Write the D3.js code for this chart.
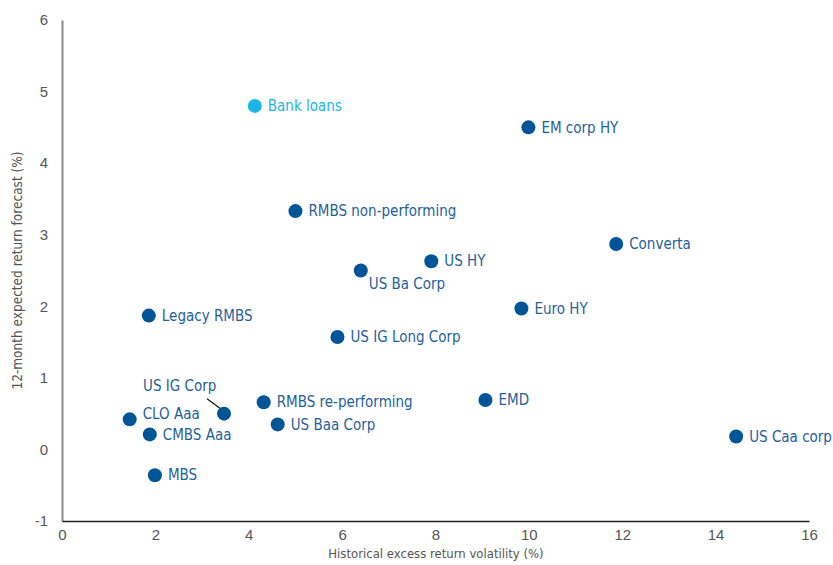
<!DOCTYPE html>
<html>
<head>
<meta charset="utf-8">
<script src="https://cdn.jsdelivr.net/npm/d3@7"></script>
<style>
  body { margin: 0; background: #fff; }
  svg { font-family: "DejaVu Sans Condensed", "Liberation Sans Narrow", sans-serif; }
</style>
</head>
<body>
<div id="chart"></div>
<script>
// Data
const names = ['Bank loans', 'EM corp HY', 'RMBS non-performing', 'Converta', 'US HY', 'US Ba Corp',
  'Euro HY', 'Legacy RMBS', 'US IG Long Corp', 'US IG Corp', 'RMBS re-performing', 'CLO Aaa',
  'CMBS Aaa', 'US Baa Corp', 'EMD', 'MBS', 'US Caa corp'];
const volatility = [4.13, 9.99, 5.0, 11.87, 7.91, 6.40, 9.84, 1.86, 5.90, 3.47, 4.32, 1.45, 1.88, 4.62, 9.07, 1.99, 14.44];
const forecast = [4.80, 4.50, 3.33, 2.87, 2.63, 2.50, 1.97, 1.87, 1.57, 0.50, 0.66, 0.42, 0.21, 0.35, 0.69, -0.36, 0.18];
const xTicks = [0, 2, 4, 6, 8, 10, 12, 14, 16];
const yTicks = [-1, 0, 1, 2, 3, 4, 5, 6];

const highlight = 'Bank loans';

// label placement (offset from dot centre)
const labelPos = {
  'US Ba Corp': { dx: 8, dy: 13 },
  'US IG Corp': { dx: -81, dy: -28, leader: true },
  'CLO Aaa': { dx: 13, dy: -6 }
};

const W = 833, H = 565;
const margin = { top: 20, right: 24, bottom: 44, left: 62 };

const svg = d3.select('#chart').append('svg')
  .attr('width', W)
  .attr('height', H);

const x = d3.scaleLinear().domain([0, 16]).range([margin.left, 809]);
const y = d3.scaleLinear().domain([-1, 6]).range([521, 20]);

// y axis
const yAxis = svg.append('g')
  .attr('transform', `translate(${margin.left},0)`)
  .call(d3.axisLeft(y).tickValues(yTicks).tickSize(0).tickPadding(14).tickFormat(d => String(d)));
yAxis.select('.domain').attr('stroke', '#8a8a8a').attr('stroke-width', 2);
yAxis.selectAll('text').attr('font-size', 15).attr('fill', '#555').attr('font-family', null);

// x axis
const xAxis = svg.append('g')
  .attr('transform', `translate(0,${y(-1)})`)
  .call(d3.axisBottom(x).tickValues(xTicks).tickSize(0).tickPadding(8).tickFormat(d => String(d)));
xAxis.select('.domain').attr('stroke', '#222').attr('stroke-width', 1.5);
xAxis.selectAll('text').attr('font-size', 15).attr('fill', '#555').attr('font-family', null);

// axis titles
svg.append('text')
  .attr('x', 436)
  .attr('y', 558)
  .attr('text-anchor', 'middle')
  .attr('font-size', 13)
  .attr('fill', '#555')
  .text('Historical excess return volatility (%)');

svg.append('text')
  .attr('transform', `translate(22,${y(2.5)}) rotate(-90)`)
  .attr('text-anchor', 'middle')
  .attr('font-size', 13.5)
  .attr('fill', '#555')
  .text('12-month expected return forecast (%)');

const data = names.map((n, i) => ({ name: n, vx: volatility[i], vy: forecast[i] }));

const pts = svg.append('g').selectAll('g.pt')
  .data(data)
  .enter()
  .append('g')
  .attr('class', 'pt')
  .attr('transform', d => `translate(${x(d.vx)},${y(d.vy)})`);

pts.filter(d => labelPos[d.name] && labelPos[d.name].leader)
  .append('line')
  .attr('x1', -17).attr('y1', -15)
  .attr('x2', -2).attr('y2', -4)
  .attr('stroke', '#111')
  .attr('stroke-width', 1.2);

pts.append('circle')
  .attr('r', 7)
  .attr('fill', d => d.name === highlight ? '#1bb5e6' : '#005596');

pts.append('text')
  .attr('x', d => (labelPos[d.name] || { dx: 13 }).dx)
  .attr('y', d => (labelPos[d.name] || { dy: 0 }).dy)
  .attr('dy', '0.35em')
  .attr('font-size', 15)
  .attr('fill', d => d.name === highlight ? '#1bb5e6' : '#1f5f9c')
  .text(d => d.name);
</script>
</body>
</html>
